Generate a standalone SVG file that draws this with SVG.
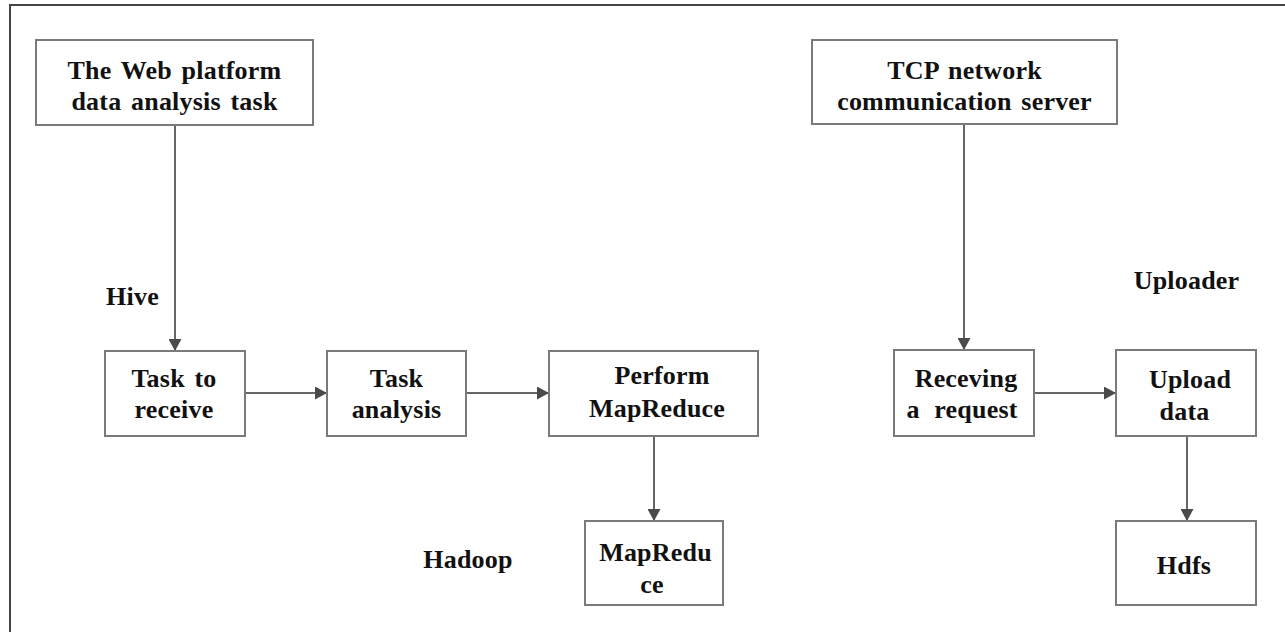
<svg xmlns="http://www.w3.org/2000/svg" width="1285" height="632" viewBox="0 0 1285 632">
<style>
.box{fill:#fff;stroke:#7a7a7a;stroke-width:2}
.t{font-family:"Liberation Serif","Times New Roman",serif;font-weight:bold;font-size:26px;fill:#111;text-anchor:middle;letter-spacing:0.2px;word-spacing:3px}
.c{stroke:#666;stroke-width:2;fill:none;marker-end:url(#ah)}
</style>
<defs>
<marker id="ah" viewBox="0 0 12 13" refX="12" refY="6.5" markerWidth="12" markerHeight="13" markerUnits="userSpaceOnUse" orient="auto">
<path d="M0,0 L12,6.5 L0,13 z" fill="#4a4a4a"/>
</marker>
</defs>
<rect width="1285" height="632" fill="#fff"/>
<path d="M10,632 L10,5 L1285,5" fill="none" stroke="#444" stroke-width="2"/>
<g id="connectors">
<line class="c" x1="175" y1="125" x2="175" y2="351"/>
<line class="c" x1="964" y1="125" x2="964" y2="350"/>
<line class="c" x1="245" y1="393" x2="327" y2="393"/>
<line class="c" x1="466" y1="393" x2="549" y2="393"/>
<line class="c" x1="1034" y1="393" x2="1116" y2="393"/>
<line class="c" x1="654" y1="436" x2="654" y2="521"/>
<line class="c" x1="1187" y1="436" x2="1187" y2="521"/>
</g>
<g id="web">
<rect class="box" x="36" y="40" width="277" height="85"/>
<text class="t" x="174.5" y="79">The Web platform</text>
<text class="t" x="174.5" y="110">data analysis task</text>
</g>
<g id="tcp">
<rect class="box" x="812" y="40" width="305" height="84"/>
<text class="t" x="964.5" y="79">TCP network</text>
<text class="t" x="964.5" y="110">communication server</text>
</g>
<g id="task-receive">
<rect class="box" x="105" y="351" width="140" height="85"/>
<text class="t" x="174" y="387">Task to</text>
<text class="t" x="174" y="418">receive</text>
</g>
<g id="task-analysis">
<rect class="box" x="327" y="351" width="139" height="85"/>
<text class="t" x="396.5" y="387">Task</text>
<text class="t" x="396.5" y="418">analysis</text>
</g>
<g id="perform">
<rect class="box" x="549" y="351" width="209" height="85"/>
<text class="t" x="662" y="384">Perform</text>
<text class="t" x="657" y="417">MapReduce</text>
</g>
<g id="mapreduce">
<rect class="box" x="585" y="521" width="138" height="84"/>
<text class="t" x="655.5" y="561">MapRedu</text>
<text class="t" x="652" y="593">ce</text>
</g>
<g id="receiving">
<rect class="box" x="894" y="350" width="140" height="86"/>
<text class="t" x="966" y="387">Receving</text>
<text class="t" x="962" y="418" style="word-spacing:8px">a request</text>
</g>
<g id="upload">
<rect class="box" x="1116" y="350" width="140" height="86"/>
<text class="t" x="1190" y="388">Upload</text>
<text class="t" x="1184.5" y="420">data</text>
</g>
<g id="hdfs">
<rect class="box" x="1116" y="521" width="140" height="84"/>
<text class="t" x="1184" y="574">Hdfs</text>
</g>
<g id="labels">
<text class="t" x="132.5" y="305">Hive</text>
<text class="t" x="468" y="568">Hadoop</text>
<text class="t" x="1186.5" y="289">Uploader</text>
</g>
</svg>
